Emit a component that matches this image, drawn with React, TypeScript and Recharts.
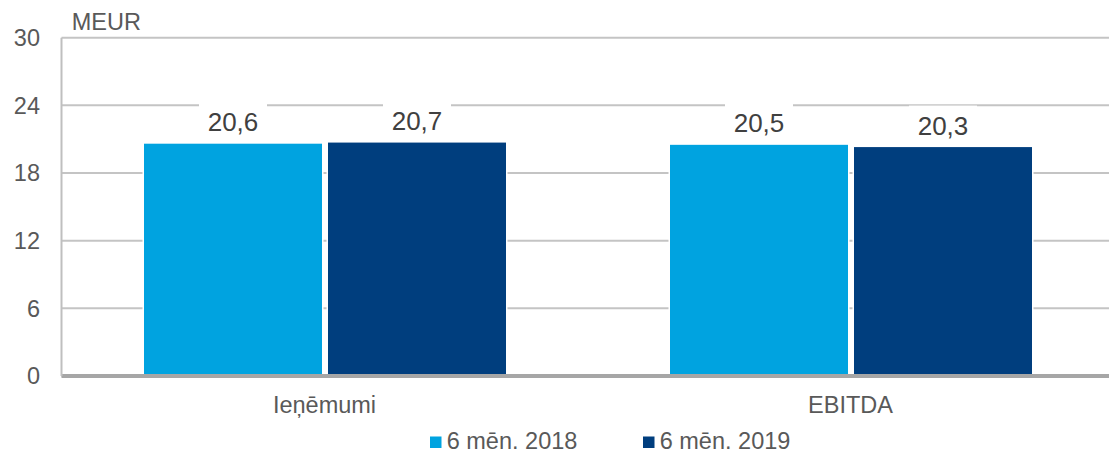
import React from "react";
import { BarChart, Bar, XAxis, YAxis, CartesianGrid, LabelList } from "recharts";

const categories = ["Ieņēmumi", "EBITDA"];
const series2018 = [20.6, 20.5];
const series2019 = [20.7, 20.3];
const seriesNames = ["6 mēn. 2018", "6 mēn. 2019"];
const seriesColors = ["#00A3E0", "#003E7E"];
const yTicks = [0, 6, 12, 18, 24, 30];
const unitLabel = "MEUR";

const data = categories.map((c, i) => ({ name: c, s2018: series2018[i], s2019: series2019[i] }));

const FONT = "'Liberation Sans', Arial, sans-serif";

const BarShape = (props: any) => {
  const { x, y, width, height, fill } = props;
  if (width == null || height == null) return null;
  return (
    <g>
      <rect x={x} y={y} width={width} height={height} fill="#fff" />
      <rect x={x + 1.5} y={y} width={Math.max(0, width - 3)} height={height} fill={fill} />
    </g>
  );
};

const ValueLabel = (props: any) => {
  const { x, y, width, value } = props;
  const cx = x + width / 2;
  const txt = String(value).replace(".", ",");
  return (
    <g>
      <rect x={cx - 34} y={y - 41.5} width={68} height={36} fill="#fff" />
      <text x={cx} y={y - 12.5} textAnchor="middle" fontSize={26} fill="#404040" fontFamily={FONT}>
        {txt}
      </text>
    </g>
  );
};

export default function App() {
  return (
    <div style={{ position: "absolute", left: 0, top: 0, width: 1109, height: 454, overflow: "hidden", background: "#fff" }}>
      <BarChart
        width={1114}
        height={454}
        data={data}
        margin={{ top: 37.7, right: 0.5, left: 0, bottom: 0 }}
        barSize={181}
        barGap={3}
        style={{ fontFamily: FONT }}
      >
        <CartesianGrid vertical={false} stroke="#C4C4C4" strokeWidth={2} />
        <XAxis
          dataKey="name"
          height={78}
          tickLine={false}
          tickSize={0}
          tickMargin={20.4}
          axisLine={{ stroke: "#A6A6A6", strokeWidth: 4 }}
          tick={{ fontSize: 23.5, fill: "#595959", fontFamily: FONT }}
        />
        <YAxis
          width={61.5}
          domain={[0, 30]}
          ticks={yTicks}
          tickLine={false}
          tickSize={0}
          tickMargin={21.5}
          axisLine={{ stroke: "#BFBFBF", strokeWidth: 2 }}
          tick={{ fontSize: 23.5, fill: "#595959", fontFamily: FONT }}
        />
        <Bar dataKey="s2018" fill={seriesColors[0]} isAnimationActive={false} shape={<BarShape />}>
          <LabelList dataKey="s2018" content={<ValueLabel />} />
        </Bar>
        <Bar dataKey="s2019" fill={seriesColors[1]} isAnimationActive={false} shape={<BarShape />}>
          <LabelList dataKey="s2019" content={<ValueLabel />} />
        </Bar>
      </BarChart>
      <svg width={1109} height={454} style={{ position: "absolute", left: 0, top: 0, pointerEvents: "none" }}>
        <text x={71.7} y={29.5} fontSize={23.5} fill="#595959" fontFamily={FONT}>
          {unitLabel}
        </text>
        {seriesNames.map((n, i) => (
          <g key={n}>
            <rect x={430 + i * 213} y={436.5} width={11.5} height={11.5} fill={seriesColors[i]} />
            <text x={446.7 + i * 213} y={449} fontSize={23.5} fill="#595959" fontFamily={FONT}>
              {n}
            </text>
          </g>
        ))}
      </svg>
    </div>
  );
}
